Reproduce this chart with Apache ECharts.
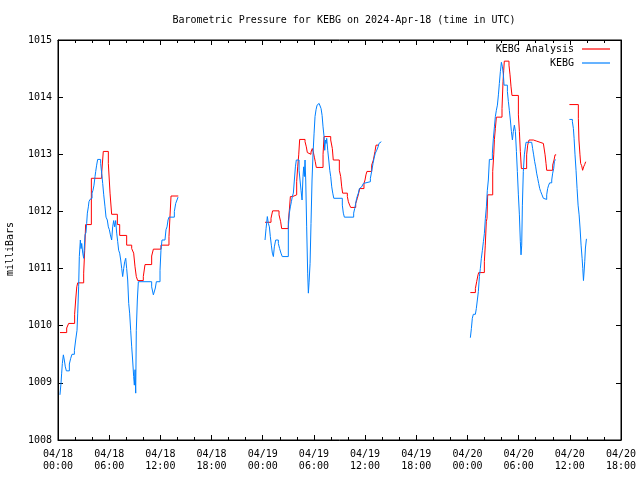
<!DOCTYPE html>
<html>
<head>
<meta charset="utf-8">
<script src="https://cdn.jsdelivr.net/npm/echarts@6/dist/echarts.min.js"></script>
<style>html,body{margin:0;padding:0;background:#fff;}#c{width:640px;height:480px;}</style>
</head>
<body>
<div id="c"></div>
<script>
// hours since 2024-04-18 00:00 UTC, pressure in millibars
var titleText = 'Barometric Pressure for KEBG on 2024-Apr-18 (time in UTC)';
var seriesNames = ['KEBG Analysis', 'KEBG'];
var xTickLabels = ['04/18\n00:00','04/18\n06:00','04/18\n12:00','04/18\n18:00','04/19\n00:00','04/19\n06:00','04/19\n12:00','04/19\n18:00','04/20\n00:00','04/20\n06:00','04/20\n12:00','04/20\n18:00'];
var yTickLabels = ['1008','1009','1010','1011','1012','1013','1014','1015'];

var analysis1 = [[0.23,1009.88],[1.02,1009.96],[1.25,1010.04],[1.95,1010.2],[2.07,1010.45],[2.2,1010.68],[2.31,1010.75],[3.01,1010.92],[3.13,1011.32],[3.24,1011.77],[3.91,1012.58],[5.12,1012.67],[5.2,1012.83],[5.31,1013.05],[5.9,1012.84],[6.1,1012.32],[6.29,1011.95],[6.96,1011.77],[7.23,1011.58],[8.05,1011.41],[8.64,1011.35],[8.87,1011.27],[9.03,1011.03],[9.18,1010.86],[9.34,1010.79],[10.0,1010.86],[10.2,1011.07],[10.98,1011.22],[11.18,1011.34],[12.07,1011.41],[13.01,1011.56],[13.13,1011.92],[13.25,1012.27],[14.1,1012.27]];
var analysis2 = [[24.27,1011.81],[24.97,1011.88],[25.16,1012.01],[25.91,1011.94],[26.1,1011.82],[26.22,1011.70],[27.0,1011.82],[27.12,1012.02],[27.24,1012.26],[27.5,1012.29],[27.98,1012.52],[28.1,1012.78],[28.22,1012.99],[28.33,1013.26],[28.96,1013.22],[29.11,1013.13],[29.23,1013.03],[29.35,1013.0],[29.66,1013.04],[29.81,1013.10],[29.93,1013.04],[30.05,1012.95],[30.16,1012.87],[30.28,1012.77],[31.07,1013.0],[31.19,1013.31],[31.97,1013.25],[32.16,1013.10],[32.27,1012.9],[32.98,1012.72],[33.14,1012.61],[33.26,1012.43],[33.37,1012.32],[33.92,1012.26],[34.04,1012.17],[34.19,1012.11],[34.31,1012.07],[34.9,1012.14],[35.09,1012.23],[35.25,1012.32],[35.37,1012.40],[35.87,1012.49],[35.99,1012.55],[36.1,1012.64],[36.22,1012.70],[36.77,1012.81],[36.97,1012.9],[37.16,1013.05],[37.28,1013.16],[37.6,1013.16]];
var analysis3 = [[48.34,1010.58],[48.93,1010.65],[49.08,1010.77],[49.24,1010.89],[49.32,1010.93],[49.98,1011.12],[50.09,1011.41],[50.21,1011.82],[50.29,1011.88],[50.37,1012.29],[50.96,1012.70],[51.08,1012.99],[51.16,1013.26],[51.27,1013.45],[51.39,1013.65],[52.05,1013.80],[52.17,1014.27],[52.25,1014.47],[52.32,1014.63],[52.87,1014.56],[52.99,1014.39],[53.11,1014.18],[53.22,1014.03],[53.97,1013.69],[54.09,1013.40],[54.2,1013.05],[54.32,1012.75],[54.94,1012.99],[55.06,1013.16],[55.22,1013.25],[55.73,1013.23],[56.12,1013.21],[56.51,1013.19],[56.9,1013.17],[57.02,1013.16],[57.1,1012.99],[57.21,1012.84],[57.29,1012.72],[57.99,1012.81],[58.15,1012.9],[58.27,1012.99],[58.4,1013.0]];
var analysis4 = [[59.95,1013.87],[61.0,1013.63],[61.07,1013.25],[61.19,1012.99],[61.27,1012.84],[61.39,1012.8],[61.5,1012.72],[61.62,1012.78],[61.74,1012.82],[61.86,1012.87]];

var obs1 = [[0.23,1008.79],[0.35,1008.99],[0.43,1009.17],[0.51,1009.34],[0.63,1009.49],[0.74,1009.40],[0.86,1009.28],[0.98,1009.21],[1.33,1009.33],[1.49,1009.43],[1.64,1009.5],[1.92,1009.57],[2.07,1009.75],[2.23,1009.92],[2.31,1010.22],[2.42,1010.68],[2.5,1011.21],[2.62,1011.5],[2.7,1011.35],[2.78,1011.44],[2.9,1011.27],[3.01,1011.18],[3.09,1011.38],[3.17,1011.59],[3.28,1011.63],[3.36,1011.79],[3.44,1011.97],[3.56,1012.08],[3.63,1012.17],[3.75,1012.21],[3.87,1012.23],[3.99,1012.32],[4.1,1012.37],[4.22,1012.46],[4.34,1012.61],[4.42,1012.7],[4.53,1012.81],[4.65,1012.91],[5.0,1012.84],[5.12,1012.67],[5.24,1012.49],[5.36,1012.29],[5.51,1012.08],[5.63,1011.90],[5.78,1011.85],[5.9,1011.73],[6.02,1011.68],[6.14,1011.59],[6.29,1011.50],[6.41,1011.73],[6.53,1011.84],[6.64,1011.73],[6.76,1011.84],[6.88,1011.62],[7.0,1011.47],[7.11,1011.32],[7.23,1011.27],[7.35,1011.15],[7.47,1011.0],[7.58,1010.86],[7.7,1011.0],[7.82,1011.12],[7.94,1011.18],[8.05,1011.0],[8.17,1010.80],[8.29,1010.39],[8.4,1010.22],[8.52,1009.92],[8.64,1009.63],[8.75,1009.4],[8.87,1009.11],[8.95,1008.96],[9.03,1009.23],[9.11,1008.82],[9.18,1009.92],[9.3,1010.45],[9.42,1010.77],[10.98,1010.68],[11.18,1010.54],[11.29,1010.51],[11.41,1010.66],[11.53,1010.77],[11.96,1010.97],[12.07,1011.32],[12.19,1011.5],[12.54,1011.52],[12.66,1011.68],[12.78,1011.73],[12.9,1011.85],[13.01,1011.9],[13.64,1012.0],[13.8,1012.14],[13.95,1012.2],[14.07,1012.25]];
var obs2 = [[24.27,1011.5],[24.39,1011.70],[24.54,1011.91],[24.66,1011.79],[24.78,1011.73],[24.89,1011.56],[25.01,1011.41],[25.13,1011.27],[25.25,1011.21],[25.36,1011.38],[25.52,1011.5],[25.83,1011.44],[25.98,1011.35],[26.14,1011.27],[26.29,1011.21],[27.0,1011.73],[27.12,1011.97],[27.24,1012.08],[27.36,1012.17],[27.47,1012.26],[27.59,1012.32],[27.71,1012.55],[27.83,1012.78],[27.94,1012.9],[28.26,1012.72],[28.37,1012.55],[28.49,1012.37],[28.61,1012.2],[28.72,1012.61],[28.8,1012.78],[28.88,1012.61],[28.96,1012.9],[29.04,1012.55],[29.15,1011.73],[29.27,1010.92],[29.35,1010.57],[29.43,1010.75],[29.55,1011.09],[29.66,1011.79],[29.78,1012.55],[29.9,1013.02],[30.02,1013.37],[30.13,1013.66],[30.25,1013.78],[30.37,1013.86],[30.49,1013.89],[30.61,1013.92],[30.72,1013.86],[30.84,1013.8],[30.96,1013.68],[31.07,1013.48],[31.19,1013.31],[31.27,1013.07],[31.35,1013.25],[31.43,1013.19],[31.5,1013.28],[31.62,1013.07],[31.74,1012.9],[31.86,1012.72],[31.97,1012.61],[32.09,1012.43],[32.21,1012.32],[32.33,1012.23],[33.33,1012.11],[33.45,1011.97],[33.57,1011.9],[34.66,1011.97],[34.78,1012.05],[34.9,1012.14],[35.01,1012.23],[35.21,1012.32],[35.33,1012.40],[35.45,1012.43],[35.6,1012.46],[35.8,1012.49],[35.91,1012.52],[36.62,1012.58],[36.77,1012.7],[36.93,1012.84],[37.05,1012.93],[37.2,1013.02],[37.36,1013.07],[37.52,1013.13],[37.63,1013.19],[37.75,1013.22],[37.9,1013.22]];
var obs3 = [[48.34,1009.79],[48.46,1009.95],[48.57,1010.13],[48.69,1010.2],[48.93,1010.22],[49.04,1010.30],[49.16,1010.45],[49.28,1010.6],[49.4,1010.86],[49.51,1011.0],[49.63,1011.18],[49.75,1011.32],[49.87,1011.47],[49.98,1011.61],[50.1,1011.88],[50.22,1012.08],[50.33,1012.37],[50.45,1012.55],[50.57,1012.91],[50.92,1013.02],[51.04,1013.28],[51.16,1013.48],[51.27,1013.66],[51.39,1013.77],[51.51,1013.86],[51.63,1014.04],[51.74,1014.24],[51.86,1014.45],[51.98,1014.61],[52.1,1014.53],[52.21,1014.39],[52.29,1014.21],[52.68,1014.10],[52.8,1013.92],[52.91,1013.77],[53.03,1013.6],[53.15,1013.4],[53.27,1013.25],[53.38,1013.4],[53.5,1013.51],[53.62,1013.4],[53.74,1013.05],[53.85,1012.70],[53.97,1012.29],[54.09,1011.94],[54.2,1011.47],[54.28,1011.24],[54.36,1011.41],[54.44,1012.11],[54.55,1012.70],[54.67,1012.99],[54.79,1013.13],[54.87,1013.21],[55.53,1013.19],[55.64,1013.10],[55.76,1012.99],[55.88,1012.87],[56.0,1012.78],[56.11,1012.67],[56.23,1012.58],[56.35,1012.49],[56.47,1012.4],[56.58,1012.35],[56.74,1012.29],[56.9,1012.23],[57.02,1012.21],[57.29,1012.29],[57.4,1012.40],[57.52,1012.46],[57.64,1012.5],[57.88,1012.55],[57.99,1012.67],[58.11,1012.75],[58.19,1012.87],[58.31,1012.91]];
var obs4 = [[59.95,1013.61],[60.3,1013.57],[60.42,1013.45],[60.5,1013.28],[60.61,1012.99],[60.73,1012.72],[60.85,1012.4],[60.97,1012.11],[61.09,1011.94],[61.2,1011.71],[61.32,1011.41],[61.44,1011.18],[61.52,1011.0],[61.6,1010.79],[61.67,1010.94],[61.75,1011.12],[61.83,1011.36],[61.95,1011.52]];

// join segments with a null break placed at the end of the previous segment
function joinSegments(segs) {
  var out = [];
  segs.forEach(function (s, i) {
    if (i > 0) {
      var prev = segs[i - 1];
      out.push([prev[prev.length - 1][0], null]);
    }
    out = out.concat(s);
  });
  return out;
}
var analysisData = joinSegments([analysis1, analysis2, analysis3, analysis4]);
var obsData = joinSegments([obs1, obs2, obs3, obs4]);

var FONT = 'DejaVu Sans Mono';
var chart = echarts.init(document.getElementById('c'), null, {renderer: 'canvas'});

function xAxisCfg(pos, showLabel) {
  return {
    type: 'value', position: pos, min: 0, max: 66, interval: 6,
    axisLine: {show: true, onZero: false, lineStyle: {color: '#000', width: 1}},
    axisTick: {show: true, inside: true, length: 5, lineStyle: {color: '#000'}},
    minorTick: {show: true, splitNumber: 3, length: 3, lineStyle: {color: '#000'}},
    splitLine: {show: false},
    axisLabel: {show: showLabel, margin: 8, fontFamily: FONT, fontSize: 10, color: '#000', lineHeight: 12.5,
      formatter: function (v) { return xTickLabels[Math.round(v / 6)]; }}
  };
}
function yAxisCfg(pos, showLabel) {
  return {
    type: 'value', position: pos, min: 1008, max: 1015, interval: 1,
    axisLine: {show: true, onZero: false, lineStyle: {color: '#000', width: 1}},
    axisTick: {show: true, inside: true, length: 5, lineStyle: {color: '#000'}},
    splitLine: {show: false},
    axisLabel: {show: showLabel, margin: 6, fontFamily: FONT, fontSize: 10, color: '#000',
      formatter: function (v) { return yTickLabels[Math.round(v - 1008)]; }}
  };
}

chart.setOption({
  animation: false,
  backgroundColor: '#fff',
  title: {text: titleText, left: 339, top: 10, textAlign: 'center',
    textStyle: {fontFamily: FONT, fontSize: 10, fontWeight: 'normal', color: '#000'}},
  legend: {
    orient: 'vertical', align: 'right', right: 30, top: 44, padding: 0,
    itemWidth: 28, itemHeight: 1.2, itemGap: 4, icon: 'rect',
    textStyle: {fontFamily: FONT, fontSize: 10, color: '#000', padding: [0, 3, 0, 0]},
    data: seriesNames
  },
  grid: {left: 58, right: 19, top: 40, bottom: 40, show: true, borderColor: '#000', borderWidth: 1, containLabel: false},
  xAxis: [xAxisCfg('bottom', true), xAxisCfg('top', false)],
  yAxis: [yAxisCfg('left', true), yAxisCfg('right', false)],
  graphic: [{type: 'text', x: 10, y: 249, rotation: Math.PI / 2,
    style: {text: 'milliBars', font: '10px "' + FONT + '"', fill: '#000', textAlign: 'center', textVerticalAlign: 'middle'}}],
  series: [
    {name: seriesNames[0], type: 'line', step: 'end', data: analysisData, symbol: 'none', connectNulls: false,
      lineStyle: {color: '#ff0000', width: 1}, itemStyle: {color: '#ff0000'}},
    {name: seriesNames[1], type: 'line', step: 'end', data: obsData, symbol: 'none', connectNulls: false,
      lineStyle: {color: '#0080ff', width: 1}, itemStyle: {color: '#0080ff'}}
  ]
});
</script>
</body>
</html>
